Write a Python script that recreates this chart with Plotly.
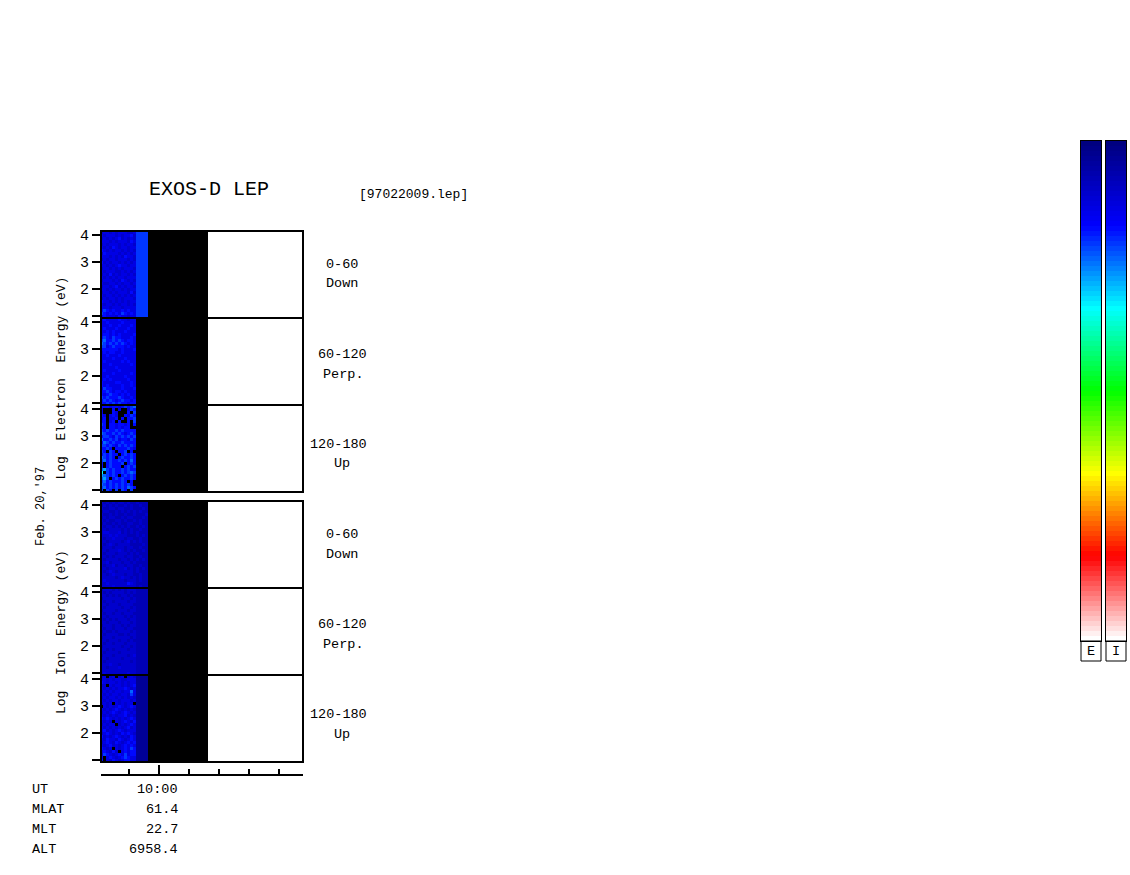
import plotly.graph_objects as go

# ---------- data (top row first; '.' = no data, digits/letters = colour step) ----------
E_DOWN = ["344343444334","434443434453","343434534343","444343444354","343444343443","434354344344",
"543434434343","354444343434","444343435443","343443444343","534344343434","443434544344","344343434443",
"434443343434","343534344343","434343443444","344434354343","433443434434","344345343443","443434434344",
"344343444353","434434343434","343443434443","544343434344","434434344343","444344434444","565454454544",
"654545465454","454443544344"]
E_PERP = ["454444544344","445444454444","444544544454","454445444544","445454445444","455454544445",
"565465544454","675565654554","765656565454","664565554544","555555454445","454554454444","445444544444",
"444454445444","454444454544","444544444454","444445444444","454444544444","444454444454","445444445444",
"454544444544","544445544454","545444454454","465544454445","556545545444","545655454544","656555654454",
"565654565545","556565655455"]
E_UP = ["555455456567","4...5.4..465","4...54...5.6","54.454..5465","45.445.5.556","55.45.5..5.6",
"65.5545545.5","55.5545455..","656556565555","765565654565","566546565656","755656455465","576565565555",
"665654656565","5565.5555654","65.65.556.5.","565655.56565","76565.565565","675655656575","5.565556.565",
"5.56555.5656","786565565655","a.6565565676","876565.56565","786.56565565","675655565.5.","76565656565.",
"675656565765","6.65.6.65.6."]
I_DOWN = ["3232323323223222","2323232232322322","3223323322322232","2332232323232322","3223232232232223",
"2323322323322232","3232233232232322","2322323223322322","3233232323223232","3323333232322322","3443334232323222",
"3334343332223232","3233433323322322","3323333234232322","3234323333222232","2333233323322322","3323334323232232",
"3233323332323222","3323233323322322","3233332332323232","3342333233232222","3233423323322322","3323333342323232",
"3234323333323222","3323433323322322","3333323433232322","3433333323332322","3343333335432222","3333433333332322"]
I_PERP = ["233323232333","323233332323","332323233232","233333323323","323323333233","332333233332",
"323333323323","233332333233","323323323332","332333332323","323232333233","332333233323","233323323233",
"323323332332","232232333323","323333223233","233323333323","332333233232","323323332333","233333323323",
"332323333233","323333233333","233323333234","332333323333","323333333323","333433233333","332333433333",
"333333333333","343333333433"]
I_UP = ["34.34.34.343","443434433444","543443434344","33.434434345","434343445434","343434434474",
"434344344364","343443434343","434344344434","3434.434344.",".43434543454","434345434343","343454345434",
"434343445343","545434343454","4343.4345435","34344.343454","434343434534","453434543444","345434354543",
"534345434354","435443543454","345435434545","434534345454","5434.4345465","454353.45455","365434546455",
"4.4543456544","5.4354345544"]
PANEL_ROWS = [E_DOWN, E_PERP, E_UP, I_DOWN, I_PERP, I_UP]
PANEL_TAILS = ["6666", "", "", "", "2222", "1111"]   # steady steps right of the noisy columns
STEP_LEVELS = {".": -1, "0": 0, "1": 3, "2": 7, "3": 10, "4": 13, "5": 17, "6": 20, "7": 23, "8": 27, "9": 30, "a": 33}
N_COLUMNS = 36
ENERGY_TICKS = [1, 2, 3, 4]
ENERGY_TEXT = ["", "2", "3", "4"]
TIME_MAJOR = [0]
TIME_MINOR = [-1, 1, 2, 3, 4]
LEVELS = [0,1,2,3,4,5,6,7,8,9,10,11,12,13,14,15,16,17,18,19,20,21,22,23,24,25,26,27,28,29,30,31,32,33,34,35,36,37,38,39,
40,41,42,43,44,45,46,47,48,49,50,51,52,53,54,55,56,57,58,59,60,61,62,63,64,65,66,67,68,69,70,71,72,73,74,75,76,77,78,79,
80,81,82,83,84,85,86,87,88,89,90,91,92,93,94,95,96,97,98,99]
RAMP = ["#000080", "#0000ff", "#00ffff", "#00ff00", "#ffff00", "#ff0000", "#ffffff"]

# ---------- layout helpers ----------
W, H = 1130, 875
FONT = "Liberation Mono"
def px(x): return x / W
def py(y): return 1 - y / H

PPM = 30          # pixels per tick step on the time axis
T0 = 159          # page x of the 10:00 tick
XSTART = (100 - T0) / PPM
PPD = 27          # pixels per decade on the energy axis
PANEL_TOPS = [232, 319, 406, 502, 589, 676]
PANEL_H = 85
L, R = 102, 302
YMAX = 4 + 3 / PPD
YMIN = YMAX - PANEL_H / PPD
ROW_BOTTOM = 4.148 - 29 / 9

stops = [[0, "#000000"], [0.0099, "#000000"]]
for i, c in enumerate(RAMP):
    stops.append([round(0.01 + 0.99 * i / (len(RAMP) - 1), 6), c])
stops[-1][0] = 1

fig = go.Figure()
layout = dict(width=W, height=H, margin=dict(l=0, r=0, t=0, b=0, autoexpand=False), paper_bgcolor="white",
              plot_bgcolor="white", showlegend=False, font=dict(family=FONT, color="black"))

for n, (rows, tail, top) in enumerate(zip(PANEL_ROWS, PANEL_TAILS, PANEL_TOPS), start=1):
    z = []
    for row in reversed(rows):
        s = (row + tail).ljust(N_COLUMNS, ".")
        z.append([STEP_LEVELS[c] for c in s])
    fig.add_trace(go.Heatmap(z=z, x0=XSTART + 0.05, dx=0.1, y0=ROW_BOTTOM + 1 / 18, dy=1 / 9,
                             colorscale=stops, zmin=-1, zmax=99, showscale=False,
                             xaxis=f"x{n}", yaxis=f"y{n}", hoverongaps=False))
    layout[f"xaxis{n}"] = dict(domain=[px(L), px(R)], range=[(L - T0) / PPM, (R - T0) / PPM], anchor=f"y{n}",
                               showgrid=False, zeroline=False, showticklabels=False, ticks="", showline=True,
                               mirror=True, linecolor="black", linewidth=2)
    layout[f"yaxis{n}"] = dict(domain=[py(top + PANEL_H), py(top)], range=[YMIN, YMAX], anchor=f"x{n}",
                               showgrid=False, zeroline=False, tickmode="array", tickvals=ENERGY_TICKS,
                               ticktext=ENERGY_TEXT, ticks="outside", ticklen=8, tickwidth=2, tickcolor="black",
                               tickfont=dict(family=FONT, size=15), showline=True, mirror=True,
                               linecolor="black", linewidth=2)

# time axis strip
fig.add_trace(go.Scatter(x=[], y=[], xaxis="x7", yaxis="y7", mode="markers"))
layout["xaxis7"] = dict(domain=[px(101), px(303)], range=[(101 - T0) / PPM, (303 - T0) / PPM], anchor="y7",
                        showgrid=False, zeroline=False,
                        tickmode="array", tickvals=TIME_MAJOR, ticktext=[""], ticks="inside", ticklen=9, tickwidth=2,
                        tickcolor="black", showline=True, linecolor="black", linewidth=2,
                        minor=dict(tickmode="array", tickvals=TIME_MINOR, ticks="inside", ticklen=5, tickwidth=2,
                                   tickcolor="black"))
layout["yaxis7"] = dict(domain=[py(774), py(764)], range=[0, 1], anchor="x7", visible=False)

# colour bars
for n, (x0, x1) in zip((8, 9), ((1081, 1101), (1106, 1126))):
    fig.add_trace(go.Heatmap(z=[[v] for v in LEVELS], y=LEVELS, x=[0], colorscale=stops, zmin=-1, zmax=99,
                             showscale=False, xaxis=f"x{n}", yaxis=f"y{n}"))
    layout[f"xaxis{n}"] = dict(domain=[px(x0), px(x1)], range=[-0.5, 0.5], anchor=f"y{n}", visible=True,
                               showgrid=False, zeroline=False, showticklabels=False, ticks="", showline=True,
                               mirror=True, linecolor="black", linewidth=1)
    layout[f"yaxis{n}"] = dict(domain=[py(641), py(141)], range=[99.5, -0.5], anchor=f"x{n}", showgrid=False,
                               zeroline=False, showticklabels=False, ticks="", showline=True, mirror=True,
                               linecolor="black", linewidth=1)

shapes = []
for x0, x1 in ((1081, 1101), (1106, 1126)):
    shapes.append(dict(type="rect", xref="paper", yref="paper", x0=px(x0), x1=px(x1), y0=py(661), y1=py(641),
                       line=dict(color="black", width=1)))
layout["shapes"] = shapes

def note(text, x, y, size=13.5, anchor="center", angle=0):
    return dict(text=text, x=px(x), y=py(y), xref="paper", yref="paper", xanchor=anchor, yanchor="middle",
                showarrow=False, textangle=angle, font=dict(family=FONT, size=size, color="black"))

ann = [note("EXOS-D LEP", 209, 190, 20), note("[97022009.lep]", 413, 194, 13),
       note("Log  Electron  Energy (eV)", 61, 378.5, 13, angle=-90),
       note("Log  Ion  Energy (eV)", 61, 632, 13, angle=-90),
       note("Feb. 20,'97", 41, 507, 12, angle=-90),
       note("E", 1091, 651, 13.5), note("I", 1116, 651, 13.5)]
SIDE_TOP = ["0-60", "60-120", "120-180"]
SIDE_BOTTOM = ["Down", "Perp.", "Up"]
SIDE_X_TOP = [342, 342, 338]
SIDE_X_BOTTOM = [342, 343, 342]
for offset in (0, 270):
    for i in range(3):
        ann.append(note(SIDE_TOP[i], SIDE_X_TOP[i], 264 + 90 * i + offset))
        ann.append(note(SIDE_BOTTOM[i], SIDE_X_BOTTOM[i], 284 + 90 * i + offset))
ROW_NAMES = ["UT", "MLAT", "MLT", "ALT"]
ROW_VALUES = ["10:00", "61.4", "22.7", "6958.4"]
for i, (name, val) in enumerate(zip(ROW_NAMES, ROW_VALUES)):
    ann.append(note(name, 29.5, 789 + 20 * i, anchor="left"))
    ann.append(note(val, 180.5, 789 + 20 * i, anchor="right"))
layout["annotations"] = ann

fig.update_layout(**layout)
fig.write_html("out.html", config={"displayModeBar": False},
               post_script="document.body.style.margin='0';")
